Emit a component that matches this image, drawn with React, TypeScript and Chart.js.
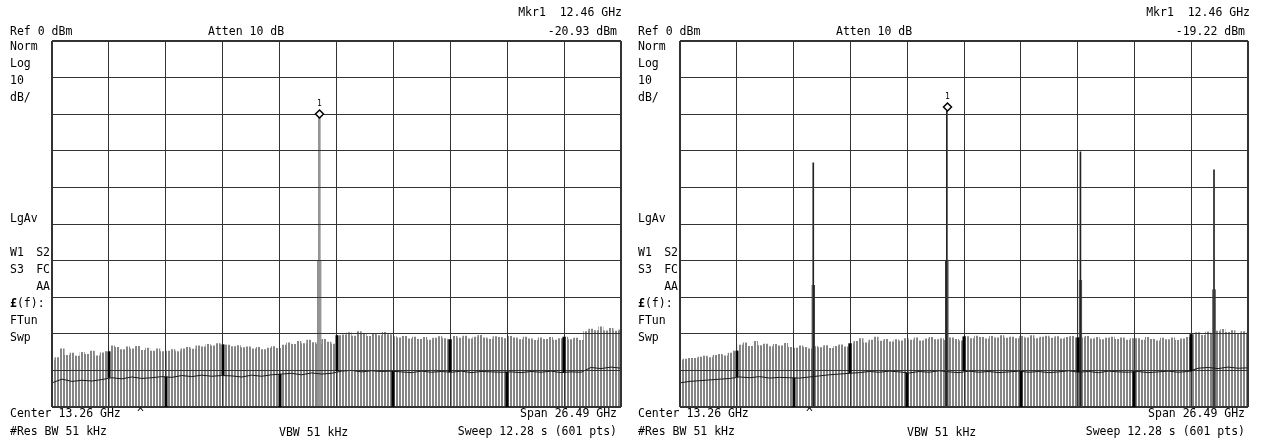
import React, { useEffect, useRef } from 'react';
import { Chart, registerables } from 'chart.js';

Chart.register(...registerables);

// ---- instrument settings ----
const START_GHZ = 0.015;
const SPAN_GHZ = 26.49;
const DIVISIONS = 10;
const REF_DBM = 0;
const BOTTOM_DBM = -100;

// ---- left screen: trace 1 (max) noise envelope, dBm, evenly spaced over span ----
const leftNoise = [
  -87.0, -86.4,
  -84.0, -85.8, -85.2, -86.0, -85.0, -85.5, -84.6, -85.9, -85.1, -84.8,
  -83.2, -83.6, -84.2, -83.5, -84.0, -83.3, -84.4, -83.8, -84.6, -84.0, -84.8,
  -84.6, -84.2, -84.8, -84.0, -83.6, -84.1, -83.2, -83.5, -82.8, -83.2, -82.6, -82.9,
  -83.0, -83.4, -83.1, -83.7, -83.5, -84.0, -83.6, -84.2, -83.8, -83.4, -83.9,
  -83.0, -82.4, -82.8, -82.0, -82.6, -81.6, -82.3, -82.8, -81.4, -82.2, -82.7,
  -80.4, -80.2, -79.6, -80.5, -79.3, -80.0, -80.6, -79.8, -80.4, -79.5, -80.1, -80.7,
  -81.0, -80.6, -81.3, -80.8, -81.4, -80.9, -81.6, -81.1, -80.7, -81.2, -81.5,
  -80.6, -81.1, -80.5, -81.3, -80.8, -80.3, -81.0, -81.4, -80.7, -80.9, -81.2, -80.6,
  -81.0, -81.5, -80.8, -81.3, -81.7, -81.0, -81.4, -80.9, -81.6, -81.2, -80.8, -81.5, -81.1, -81.7,
  -79.3, -78.6, -79.0, -78.0, -79.1, -78.4, -79.2, -78.8,
];

// left screen: trace 2 (average), dBm
const leftAvg = [
  -93.4, -92.4, -93.0, -92.7, -92.9, -92.5,
  -92.0, -92.3, -91.8, -92.2, -92.0, -91.7,
  -91.9, -91.4, -91.7, -91.3, -91.6, -91.4,
  -91.5, -91.8, -91.3, -91.6, -91.2,
  -91.0, -90.8, -91.2, -90.7, -91.0, -90.8,
  -90.2, -90.0, -90.4, -90.1, -90.3, -90.2, -90.4, -90.6, -90.2, -90.5, -90.3, -90.5, -90.2,
  -90.6, -90.3, -90.4, -90.5, -90.4, -90.6, -90.3, -90.5, -90.2, -90.6, -90.4, -90.5,
  -89.2, -89.5, -89.1, -89.4,
];

// ---- right screen ----
const rightNoise = [
  -87.2, -86.8, -86.6,
  -86.6, -86.3, -86.0, -86.4, -85.8, -85.5, -85.9, -85.2, -84.6,
  -83.0, -82.4, -83.3, -82.0, -83.1, -82.7, -83.4, -82.8, -83.2, -82.5, -83.6,
  -83.8, -83.2, -83.6, -84.0, -83.4, -83.7, -83.1, -83.9, -83.3, -82.9, -83.5, -82.6,
  -82.0, -81.2, -82.4, -81.6, -80.8, -81.9, -81.4, -82.1, -81.5, -81.8, -81.2,
  -81.6, -81.0, -81.8, -81.3, -80.9, -81.5, -81.2, -81.7, -81.0, -81.4, -81.8,
  -80.7, -81.2, -80.5, -80.9, -81.3, -80.6, -81.0, -80.4, -81.1, -80.8, -81.2,
  -80.6, -81.0, -80.4, -81.2, -80.8, -80.5, -81.1, -80.7, -81.3, -80.9, -80.6, -81.0,
  -81.0, -80.6, -81.3, -80.9, -81.5, -81.1, -80.8, -81.4, -81.0, -81.6, -81.2,
  -81.2, -81.6, -80.9, -81.4, -81.8, -81.1, -81.5, -81.0, -81.7, -81.3, -80.9,
  -80.1, -79.6, -80.3, -79.4, -80.0, -79.2, -78.7, -79.5, -79.0, -79.8, -79.3, -79.7,
];

const rightAvg = [
  -93.4, -93.0, -92.8, -92.6, -92.4, -92.2,
  -91.8, -92.0, -91.7, -92.1, -91.9, -92.0,
  -92.1, -91.8, -91.5, -91.2, -91.0, -90.8,
  -90.6, -90.3, -90.5, -90.2, -90.4, -90.7, -90.3, -90.5, -90.1, -90.4, -90.6, -90.2,
  -90.5, -90.3, -90.6, -90.4, -90.2, -90.5, -90.3, -90.6, -90.4, -90.1, -90.5, -90.3,
  -90.6, -90.2, -90.4, -90.5, -90.3, -90.6, -90.4, -90.2, -90.5, -90.3,
  -89.4, -89.2, -89.5, -89.1, -89.4, -89.3,
];

// ---- discrete signals (GHz / dBm) ----
const leftSpikeFreqs = [12.46];
const leftSpikePeaks = [-20.93];
const leftSpikeAvgs = [-60.0];

const rightSpikeFreqs = [6.23, 12.46, 18.69, 24.92];
const rightSpikePeaks = [-33.3, -19.22, -30.3, -35.2];
const rightSpikeAvgs = [-66.7, -59.8, -65.3, -67.8];

const MARKER_FREQ = 12.46;
const leftMarkerLabel = '-20.93 dBm';
const rightMarkerLabel = '-19.22 dBm';

const FONT = '"DejaVu Sans Mono", "Liberation Mono", monospace';

type PanelCfg = {
  left: number;
  width: number;
  padRight: number;
  noise: number[];
  avg: number[];
  spikeFreqs: number[];
  spikePeaks: number[];
  spikeAvgs: number[];
  markerPeak: number;
  markerLabel: string;
  caretX: number;
  thinColor: string;
  thinWidth: number;
  thickFill: string;
  thickBorder: string;
  thickWidth: number;
};

function freqAt(i: number, n: number) {
  return START_GHZ + (i * SPAN_GHZ) / (n - 1);
}

function valueAtFreq(arr: number[], f: number) {
  const idx = Math.round(((f - START_GHZ) / SPAN_GHZ) * (arr.length - 1));
  return arr[Math.max(0, Math.min(arr.length - 1, idx))];
}

function toXY(arr: number[]) {
  return arr.map((v, i) => ({ x: freqAt(i, arr.length), y: v }));
}

function makeStripePattern(ctx: CanvasRenderingContext2D) {
  const c = document.createElement('canvas');
  c.width = 3;
  c.height = 1;
  const g = c.getContext('2d')!;
  g.fillStyle = '#ffffff';
  g.fillRect(0, 0, 3, 1);
  g.fillStyle = '#858585';
  g.fillRect(0, 0, 2, 1);
  return ctx.createPattern(c, 'repeat')!;
}

function Panel({ cfg }: { cfg: PanelCfg }) {
  const ref = useRef<HTMLCanvasElement | null>(null);

  useEffect(() => {
    const canvas = ref.current!;
    const ctx = canvas.getContext('2d')!;
    const pattern = makeStripePattern(ctx);

    const overlay = {
      id: 'overlay',
      afterDraw(chart: any) {
        const c: CanvasRenderingContext2D = chart.ctx;
        const xs = chart.scales.x;
        const ys = chart.scales.y;
        c.save();

        // heavy grid segments inside the noise band
        c.strokeStyle = '#000';
        c.lineWidth = 3;
        for (let k = 1; k < DIVISIONS; k++) {
          const f = START_GHZ + (k * SPAN_GHZ) / DIVISIONS;
          const px = Math.round(xs.getPixelForValue(f));
          const env = valueAtFreq(cfg.noise, f);
          const av = valueAtFreq(cfg.avg, f);
          const top = k % 2 === 1 ? env : av;
          const bot = k % 2 === 1 ? av : BOTTOM_DBM;
          c.beginPath();
          c.moveTo(px, ys.getPixelForValue(top));
          c.lineTo(px, ys.getPixelForValue(bot));
          c.stroke();
        }

        // marker diamond
        const mx = Math.round(xs.getPixelForValue(MARKER_FREQ)) + 0.5;
        const my = Math.round(ys.getPixelForValue(cfg.markerPeak)) - 4;
        c.beginPath();
        c.moveTo(mx, my - 4);
        c.lineTo(mx + 4, my);
        c.lineTo(mx, my + 4);
        c.lineTo(mx - 4, my);
        c.closePath();
        c.fillStyle = '#fff';
        c.fill();
        c.lineWidth = 1.5;
        c.strokeStyle = '#000';
        c.stroke();
        c.fillStyle = '#000';
        c.font = `8px ${FONT}`;
        c.textAlign = 'center';
        c.textBaseline = 'middle';
        c.fillText('1', mx, my - 10);

        // annotation texts
        const t = (s: string, x: number, y: number, align: CanvasTextAlign = 'left', bold = false) => {
          c.font = `${bold ? 'bold ' : ''}11.5px ${FONT}`;
          c.textAlign = align;
          c.textBaseline = 'middle';
          c.fillText(s, x, y);
          return c.measureText(s).width;
        };
        t('Mkr1  12.46 GHz', 622, 13, 'right');
        t(cfg.markerLabel, 617, 32, 'right');
        t('Ref 0 dBm', 10, 32);
        t('Atten 10 dB', 208, 32);
        t('Norm', 10, 47);
        t('Log', 10, 64);
        t('10', 10, 81);
        t('dB/', 10, 98);
        t('LgAv', 10, 219);
        t('W1', 10, 253);
        t('S2', 50, 253, 'right');
        t('S3', 10, 270);
        t('FC', 50, 270, 'right');
        t('AA', 50, 287, 'right');
        const w = t('£', 10, 304, 'left', true);
        t('(f):', 10 + w, 304);
        t('FTun', 10, 321);
        t('Swp', 10, 338);
        t('Center 13.26 GHz', 10, 414);
        t('^', cfg.caretX, 414);
        t('#Res BW 51 kHz', 10, 432);
        t('VBW 51 kHz', 279, 433);
        t('Span 26.49 GHz', 617, 414, 'right');
        t('Sweep 12.28 s (601 pts)', 617, 432, 'right');
        c.restore();
      },
    };

    const gridWidth = (context: any) => (context.index === 0 || context.index === DIVISIONS ? 2 : 1);

    const chart = new Chart(canvas, {
      type: 'line',
      data: {
        datasets: [
          {
            type: 'line',
            data: toXY(cfg.avg),
            borderColor: '#1a1a1a',
            borderWidth: 1,
            pointRadius: 0,
            fill: false,
            tension: 0,
            order: 1,
          },
          {
            type: 'bar',
            data: cfg.spikeFreqs.map((f, i) => ({ x: f, y: [BOTTOM_DBM, cfg.spikePeaks[i]] })),
            barThickness: cfg.thinWidth,
            backgroundColor: cfg.thinColor,
            borderWidth: 0,
            grouped: false,
            order: 2,
          },
          {
            type: 'bar',
            data: cfg.spikeFreqs.map((f, i) => ({ x: f, y: [BOTTOM_DBM, cfg.spikeAvgs[i]] })),
            barThickness: cfg.thickWidth,
            backgroundColor: cfg.thickFill,
            borderColor: cfg.thickBorder,
            borderWidth: { left: 1, right: 1, top: 0, bottom: 0 },
            borderSkipped: false,
            grouped: false,
            order: 3,
          },
          {
            type: 'line',
            data: toXY(cfg.noise),
            stepped: 'middle',
            fill: 'start',
            backgroundColor: pattern,
            borderWidth: 0,
            borderColor: 'rgba(0,0,0,0)',
            pointRadius: 0,
            order: 4,
          },
        ] as any,
      },
      options: {
        responsive: false,
        devicePixelRatio: 1,
        animation: false,
        events: [],
        layout: { padding: { left: 52, right: cfg.padRight, top: 41, bottom: 39 } },
        plugins: { legend: { display: false }, tooltip: { enabled: false } },
        scales: {
          x: {
            type: 'linear',
            min: START_GHZ,
            max: START_GHZ + SPAN_GHZ,
            offset: false,
            afterBuildTicks: (s: any) => {
              s.ticks = Array.from({ length: DIVISIONS + 1 }, (_, i) => ({ value: START_GHZ + (i * SPAN_GHZ) / DIVISIONS }));
            },
            afterFit: (s: any) => {
              s.height = 0;
            },
            ticks: { display: false },
            grid: { z: 1, color: '#333', lineWidth: gridWidth, drawTicks: false, offset: false },
            border: { display: false },
          },
          y: {
            type: 'linear',
            min: BOTTOM_DBM,
            max: REF_DBM,
            afterFit: (s: any) => {
              s.width = 0;
            },
            ticks: { display: false, stepSize: 10 },
            grid: { z: 1, color: '#333', lineWidth: gridWidth, drawTicks: false },
            border: { display: false },
          },
        },
      } as any,
      plugins: [overlay],
    });

    return () => chart.destroy();
  }, [cfg]);

  return (
    <canvas
      ref={ref}
      width={cfg.width}
      height={446}
      style={{ position: 'absolute', left: cfg.left, top: 0, width: cfg.width, height: 446 }}
    />
  );
}

const leftCfg: PanelCfg = {
  left: 0,
  width: 630,
  padRight: 9,
  noise: leftNoise,
  avg: leftAvg,
  spikeFreqs: leftSpikeFreqs,
  spikePeaks: leftSpikePeaks,
  spikeAvgs: leftSpikeAvgs,
  markerPeak: leftSpikePeaks[0],
  markerLabel: leftMarkerLabel,
  caretX: 137,
  thinColor: '#959595',
  thinWidth: 2,
  thickFill: '#a5a5a5',
  thickBorder: '#909090',
  thickWidth: 4,
};

const rightCfg: PanelCfg = {
  left: 628,
  width: 635,
  padRight: 15,
  noise: rightNoise,
  avg: rightAvg,
  spikeFreqs: rightSpikeFreqs,
  spikePeaks: rightSpikePeaks,
  spikeAvgs: rightSpikeAvgs,
  markerPeak: rightSpikePeaks[1],
  markerLabel: rightMarkerLabel,
  caretX: 178,
  thinColor: '#222',
  thinWidth: 1,
  thickFill: '#cfcfcf',
  thickBorder: '#333',
  thickWidth: 3,
};

export default function App() {
  return (
    <div style={{ position: 'fixed', left: 0, top: 0, width: 1263, height: 446, background: '#fff', overflow: 'hidden' }}>
      <Panel cfg={leftCfg} />
      <Panel cfg={rightCfg} />
    </div>
  );
}
